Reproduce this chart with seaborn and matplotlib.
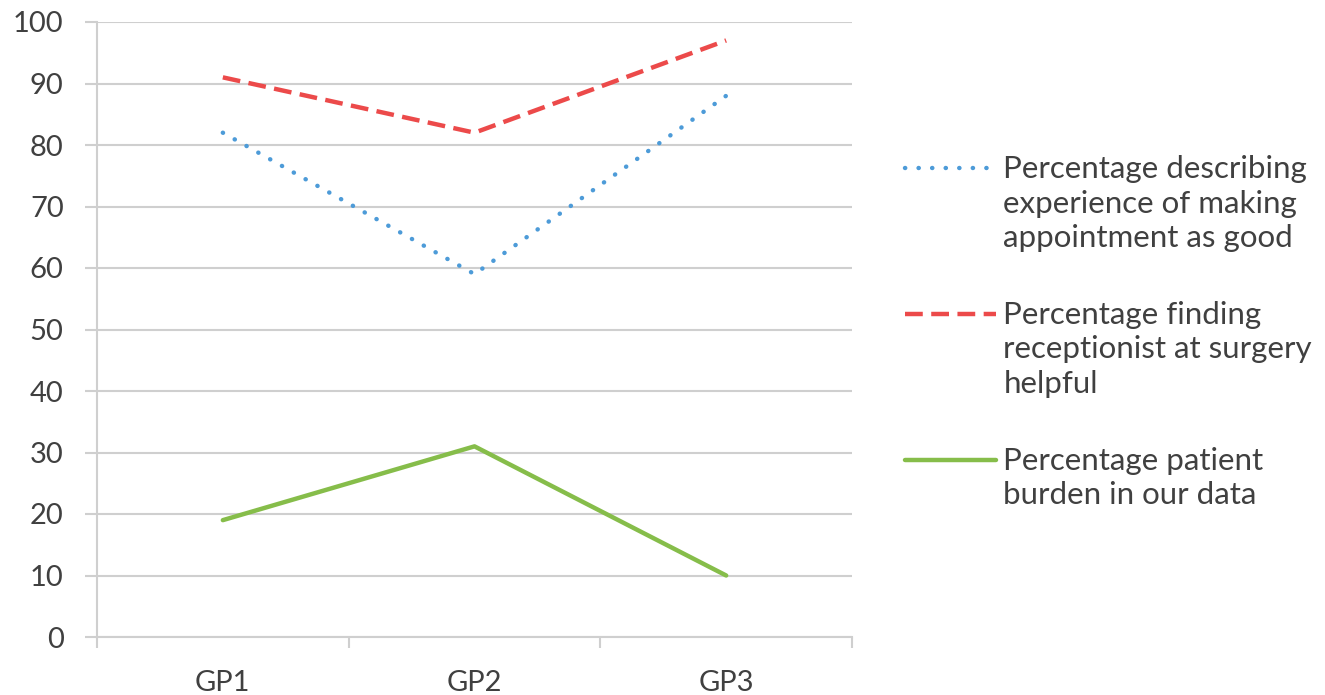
import matplotlib
matplotlib.use("Agg")
import matplotlib.pyplot as plt
import seaborn as sns
import pandas as pd
import numpy as np
from matplotlib.ticker import FixedLocator
from matplotlib.legend_handler import HandlerLine2D

categories = ["GP1", "GP2", "GP3"]
appointment_good = [82, 59, 88]
receptionist_helpful = [91, 82, 97]
patient_burden = [19, 31, 10]
series_labels = [
    "Percentage describing\nexperience of making\nappointment as good",
    "Percentage finding\nreceptionist at surgery\nhelpful",
    "Percentage patient\nburden in our data",
]
y_ticks = list(range(0, 101, 10))

sns.set_theme(style="white")
plt.rcParams['font.family'] = ['Lato', 'DejaVu Sans']
text_color = "#404040"
grid_color = "#cfcfcf"
fs_tick = 21
fs_leg = 22.5
line_sp = 1.29

fig = plt.figure(figsize=(13.25, 6.95), dpi=100)
ax = fig.add_axes([97/1325, 1-637/695, (852-97)/1325, (637-22)/695])

pos = list(range(len(categories)))
df = pd.DataFrame({"x": pos * 3,
                   "y": appointment_good + receptionist_helpful + patient_burden,
                   "s": [series_labels[0]]*3 + [series_labels[1]]*3 + [series_labels[2]]*3})

colors = ["#4d9bd8", "#ec4a4a", "#86bd4a"]
styles = [(0, (0.05, 3.0)), (0, (4.0, 1.9)), "-"]
caps = ["round", "butt", "butt"]
handles = []
for i, lab in enumerate(series_labels):
    sub = df[df["s"] == lab]
    sns.lineplot(data=sub, x="x", y="y", ax=ax, color=colors[i], linewidth=3.2,
                 legend=False, sort=False)
    ln = ax.get_lines()[-1]
    ln.set_linestyle(styles[i])
    ln.set_dash_capstyle(caps[i])
    handles.append(ln)

ax.set_xlim(-0.5, len(categories) - 0.5)
ax.set_ylim(0, 100)
ax.set_xticks(pos)
ax.set_xticklabels(categories)
ax.xaxis.set_minor_locator(FixedLocator([p - 0.5 for p in range(len(categories) + 1)]))
ax.set_yticks(y_ticks)
ax.set_xlabel("")
ax.set_ylabel("")
ax.yaxis.grid(True, color=grid_color, linewidth=1.5)
ax.xaxis.grid(False)
ax.set_axisbelow(True)
for side in ["top", "right"]:
    ax.spines[side].set_visible(False)
for side in ["left", "bottom"]:
    ax.spines[side].set_color(grid_color)
    ax.spines[side].set_linewidth(1.5)
ax.tick_params(axis="y", which="major", length=9, width=1.5, color=grid_color,
               direction="out", pad=15, labelsize=fs_tick, labelcolor=text_color, left=True)
ax.tick_params(axis="x", which="major", length=0, pad=24, labelsize=fs_tick, labelcolor=text_color)
ax.tick_params(axis="x", which="minor", length=8, width=1.5, color=grid_color,
               direction="out", bottom=True)


class TopLineHandler(HandlerLine2D):
    """Place the legend line next to the first line of a multi-line label."""
    def __init__(self, nlines, step, **kw):
        super().__init__(**kw)
        self.shift = (nlines - 1) / 2.0 * step

    def create_artists(self, legend, orig_handle, xdescent, ydescent, width,
                       height, fontsize, trans):
        arts = super().create_artists(legend, orig_handle, xdescent, ydescent,
                                      width, height, fontsize, trans)
        for a in arts:
            a.set_ydata(np.asarray(a.get_ydata(), dtype=float) + self.shift)
        return arts


step_pt = 36 / (100 / 72)  # distance between text lines, in points
hmap = {h: TopLineHandler(lab.count("\n") + 1, step_pt) for h, lab in zip(handles, series_labels)}

leg = fig.legend(handles, series_labels, loc="upper left", bbox_to_anchor=(905/1325, 1-155/695),
                 frameon=False, fontsize=fs_leg, handlelength=2.9, handletextpad=0.25,
                 labelspacing=1.55, borderpad=0, borderaxespad=0, handler_map=hmap)
for t in leg.get_texts():
    t.set_color(text_color)
    t.set_linespacing(line_sp)

fig.savefig("out.png", dpi=100)
